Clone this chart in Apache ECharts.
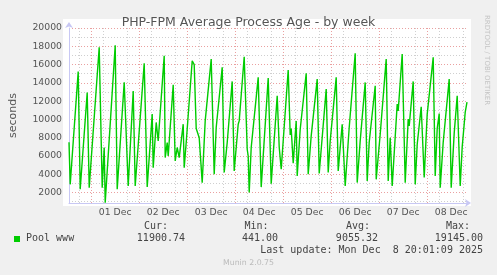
<!DOCTYPE html>
<html>
<head>
<meta charset="utf-8">
<script src="https://cdn.jsdelivr.net/npm/echarts@6/dist/echarts.min.js"></script>
<style>
html,body{margin:0;padding:0;background:#F0F0F0;}
#chart{width:497px;height:275px;}
</style>
</head>
<body>
<div id="chart"></div>
<script>
// Hours relative to 01 Dec 00:00, and average process age (seconds)
var hours = [-11.1,-10.5,-6.5,-5.5,-2,-1,4,5.5,6.5,7,12,13,16.5,17.5,18.5,21,22,26.5,28,30.5,31,32.5,33.5,36.5,37,38,38.5,41,42,43,44,46,46.5,47.5,50.5,51.5,52.5,54,55.5,57,58,60,61.5,62.5,63.5,65.5,66.5,68,70.5,71.5,73.5,74,76.5,78,78.5,79,80,83.5,85,88.5,90,93,94,95,98.5,99.5,100,101,102.5,103,104.5,105,107.5,108.5,110,113,114,117.5,118.5,119.5,122.5,123,123.5,125,125.5,126,127,129,132,133,134.5,137,138,139,142,142.5,144.5,145,147.5,148.5,149.5,150.5,153,153.5,155.5,157,158.5,159,161,162,163,165,165.5,166.5,168,169,171,172,173,174,174.5,176,179,180,181.5,183,184.5,185.5,187,187.9];
var poolWww = [7500,2900,15250,2360,12950,2540,17890,2540,6930,900,18100,2360,14050,14230,2720,13100,2720,16130,2610,10580,4730,9670,7650,16970,5830,7470,6000,13790,5460,6930,5830,9480,4730,7470,16420,16000,9000,8000,3090,9840,9840,16600,4000,9120,9290,15700,4190,7470,14160,4360,9480,9840,16860,6740,6000,2000,6930,14600,2600,14520,2980,12580,6990,4550,15400,8300,9000,5200,9840,3810,8930,8900,15040,4000,8200,14410,4080,13320,4190,7650,14600,14400,4360,8200,9480,9400,2720,9120,17230,3090,7650,14050,3270,7500,13680,3450,8380,8400,16600,3270,8000,2720,11670,10940,17150,3090,10030,9290,14160,2900,7290,11380,11200,3640,10580,10500,16790,3810,9000,10650,2540,7500,14410,2540,8500,12580,2720,7000,10760,11900];
var dayLabels = ['01 Dec','02 Dec','03 Dec','04 Dec','05 Dec','06 Dec','07 Dec','08 Dec'];
var dayNoon = [12,36,60,84,108,132,156,180];
var dayMidnight = [0,24,48,72,96,120,144,168];
var sixHour = [-6,6,18,30,42,54,66,78,90,102,114,126,138,150,162,174,186];
var yMajor = [2000,4000,6000,8000,10000,12000,14000,16000,18000,20000];
var yMinor = [1000,3000,5000,7000,9000,11000,13000,15000,17000,19000];
var legendHead = ['Cur:','Min:','Avg:','Max:'];
var legendVals = ['11900.74','441.00','9055.32','19145.00'];

var X_MIN = -11.1, X_MAX = 187.9, Y_MIN = 860, Y_MAX = 20000;
var AXIS_COLOR = '#c8c8f4';
var MAJOR = '#eaa0a0', MINOR = '#cfcfcf';
var FONT = 'DejaVu Sans', MONO = 'DejaVu Sans Mono';

var chart = echarts.init(document.getElementById('chart'), null, {renderer:'canvas'});
var data = hours.map(function(h,i){return [h, poolWww[i]];});

var gridBase = {left:67, top:28, width:400, height:175};

var legendText = [];
var headRight = [168, 268.5, 370, 470];
var valRight = [185, 278, 378, 483];
legendHead.forEach(function(t,i){
  legendText.push({type:'text', right: 497-headRight[i], top: 221, style:{text:t, font:'10px "'+MONO+'"', fill:'#444'}});
});
legendVals.forEach(function(t,i){
  legendText.push({type:'text', right: 497-valRight[i], top: 233, style:{text:t, font:'10px "'+MONO+'"', fill:'#444'}});
});

var option = {
  animation:false,
  backgroundColor:'#F0F0F0',
  title:{text:'PHP-FPM Average Process Age - by week', left:'center', top:11,
    textStyle:{fontFamily:FONT, fontSize:12.5, fontWeight:'normal', color:'#555'}},
  grid:gridBase,
  xAxis:[{
    type:'value', min:X_MIN, max:X_MAX,
    axisLine:{show:true, onZero:false, lineStyle:{color:AXIS_COLOR, width:1}, symbol:['none','arrow'], symbolSize:[6,6], symbolOffset:[0,4]},
    axisTick:{show:false, customValues:dayMidnight},
    axisLabel:{customValues:dayNoon, margin:5, color:'#555', fontFamily:FONT, fontSize:9.3,
      formatter:function(v){var i=dayNoon.indexOf(Math.round(v)); return i>=0?dayLabels[i]:'';}},
    splitLine:{show:true, lineStyle:{color:MAJOR, type:[1,2], width:1}},
    z:3
  },{
    type:'value', min:X_MIN, max:X_MAX, position:'bottom',
    axisLine:{show:false}, axisLabel:{show:false},
    axisTick:{show:false, customValues:sixHour},
    splitLine:{show:true, lineStyle:{color:MINOR, type:[1,2], width:1}},
    z:1
  }],
  yAxis:[{
    type:'value', min:Y_MIN, max:Y_MAX,
    name:'seconds', nameLocation:'middle', nameGap:50, nameRotate:90,
    nameTextStyle:{fontFamily:FONT, fontSize:11, color:'#555'},
    axisLine:{show:true, onZero:false, lineStyle:{color:AXIS_COLOR, width:1}, symbol:['none','arrow'], symbolSize:[6,6], symbolOffset:[0,6]},
    axisTick:{show:false, customValues:yMajor},
    axisLabel:{customValues:yMajor, margin:7, color:'#555', fontFamily:FONT, fontSize:9.3,
      formatter:function(v){return String(Math.round(v));}},
    splitLine:{show:true, lineStyle:{color:MAJOR, type:[1,2], width:1}},
    z:3
  },{
    type:'value', min:Y_MIN, max:Y_MAX, position:'left',
    axisLine:{show:false}, axisLabel:{show:false},
    axisTick:{show:false, customValues:yMinor},
    splitLine:{show:true, lineStyle:{color:MINOR, type:[1,2], width:1}},
    z:1
  }],
  series:[{
    type:'line', name:'Pool www', xAxisIndex:0, yAxisIndex:0,
    data:data, showSymbol:false, symbol:'none',
    lineStyle:{color:'#00CC00', width:1.4},
    z:5
  }],
  graphic:[
    {type:'rect', z:-10, shape:{x:63, y:19, width:408, height:187}, style:{fill:'#ffffff'}},
    {type:'text', left:483, top:15, rotation:-Math.PI/2, originX:0, originY:0,
      style:{text:'RRDTOOL / TOBI OETIKER', font:'7px "'+FONT+'"', fill:'#c4c4c4'}},
    {type:'rect', shape:{x:14, y:236, width:6, height:6}, style:{fill:'#00CC00'}},
    {type:'text', left:26, top:233, style:{text:'Pool www', font:'10px "'+MONO+'"', fill:'#444'}},
    {type:'text', right:14, top:245, style:{text:'Last update: Mon Dec  8 20:01:09 2025', font:'10px "'+MONO+'"', fill:'#444'}},
    {type:'text', left:'center', top:259, style:{text:'Munin 2.0.75', font:'7.8px "'+FONT+'"', fill:'#bbbbbb'}}
  ].concat(legendText)
};
chart.setOption(option);
</script>
</body>
</html>
